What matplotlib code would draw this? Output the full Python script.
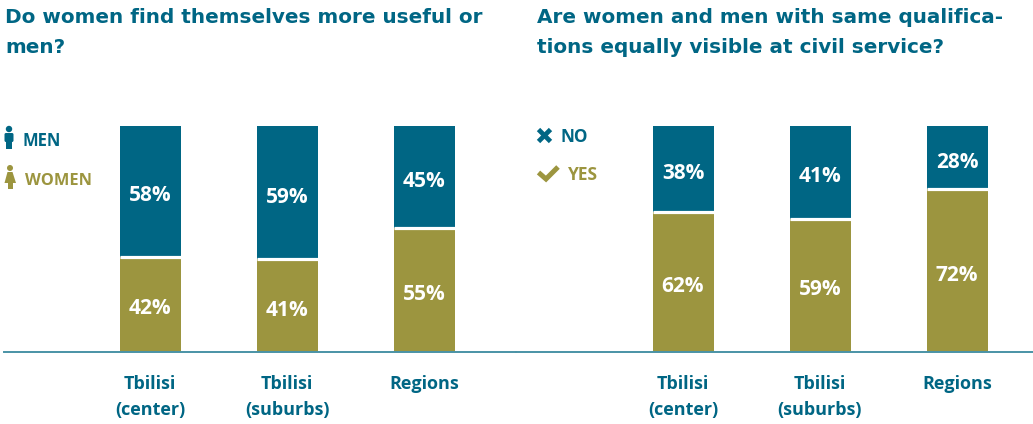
import matplotlib
matplotlib.use("Agg")
import matplotlib.pyplot as plt
from matplotlib.patches import Circle, Polygon, FancyBboxPatch

categories = ["Tbilisi\n(center)", "Tbilisi\n(suburbs)", "Regions"]
left_men = [58, 59, 45]
left_women = [42, 41, 55]
right_no = [38, 41, 28]
right_yes = [62, 59, 72]
left_title = "Do women find themselves more useful or\nmen?"
right_title = "Are women and men with same qualifica-\ntions equally visible at civil service?"

BLUE = "#006684"
OLIVE = "#9C953F"
LINE = "#4A93A6"
W, H = 1033, 424
LABEL_FONT = "Open Sans"

fig = plt.figure(figsize=(W / 100, H / 100), dpi=100, facecolor="white")


def make_axes(px_left, px_right, px_center):
    ax = fig.add_axes([px_left / W, (H - 352) / H, (px_right - px_left) / W, 226 / H])
    ax.set_xlim((px_left - px_center) / 137, (px_right - px_center) / 137)
    ax.set_ylim(0, 100)
    ax.patch.set_alpha(0)
    for s in ["top", "left", "right"]:
        ax.spines[s].set_visible(False)
    ax.spines["bottom"].set_color(LINE)
    ax.spines["bottom"].set_linewidth(1.4)
    ax.spines["bottom"].set_zorder(5)
    ax.yaxis.set_visible(False)
    ax.set_xticks(range(len(categories)))
    ax.set_xticklabels(categories, family=LABEL_FONT, fontweight="bold",
                       fontsize=13, color=BLUE, linespacing=1.55)
    ax.tick_params(axis="x", length=0, pad=16.5)
    return ax


def stacked(ax, lower, upper):
    x = list(range(len(lower)))
    bw = 61 / 137
    ax.bar(x, lower, bw, color=OLIVE, linewidth=0)
    ax.bar(x, upper, bw, bottom=lower, color=BLUE, linewidth=0)
    for i in x:
        ax.plot([i - bw / 2, i + bw / 2], [lower[i], lower[i]], color="white", lw=2.3,
                solid_capstyle="butt", zorder=4)
        for y, v in ((lower[i] / 2, lower[i]), (lower[i] + upper[i] / 2, upper[i])):
            ax.annotate(f"{v}%", (i, y), xytext=(0, -3.2), textcoords="offset points",
                        ha="center", va="center", color="white",
                        family=LABEL_FONT, fontweight="bold", fontsize=15, zorder=6)


ax1 = make_axes(4, 516, 150)
ax2 = make_axes(516, 1033, 683)
stacked(ax1, left_women, left_men)
stacked(ax2, right_yes, right_no)

fig.text(5 / W, 1 - 8 / H, left_title, va="top", ha="left", family="DejaVu Sans",
         fontweight="bold", fontsize=14.4, color=BLUE, linespacing=1.72)
fig.text(537 / W, 1 - 8 / H, right_title, va="top", ha="left", family="DejaVu Sans",
         fontweight="bold", fontsize=14.4, color=BLUE, linespacing=1.72)

# Legend keys drawn in pixel coordinates
ov = fig.add_axes([0, 0, 1, 1])
ov.set_xlim(0, W)
ov.set_ylim(H, 0)
ov.axis("off")
ov.patch.set_alpha(0)

# man icon
ov.add_patch(Circle((9, 129), 3.2, color=BLUE, lw=0))
ov.add_patch(FancyBboxPatch((4.5, 133), 9, 9, boxstyle="round,pad=0,rounding_size=1.5", color=BLUE, lw=0))
ov.add_patch(Polygon([(6, 140), (12, 140), (12, 149), (6, 149)], color=BLUE, lw=0))
# woman icon
ov.add_patch(Circle((10, 168), 3.0, color=OLIVE, lw=0))
ov.add_patch(Polygon([(7.5, 172), (12.5, 172), (16, 183), (4.5, 183)], color=OLIVE, lw=0))
ov.add_patch(Polygon([(7.5, 183), (12.5, 183), (12.5, 189), (7.5, 189)], color=OLIVE, lw=0))
# cross icon
ov.plot([538.5, 550.5], [129.5, 141.5], color=BLUE, lw=3.4, solid_capstyle="butt")
ov.plot([550.5, 538.5], [129.5, 141.5], color=BLUE, lw=3.4, solid_capstyle="butt")
# check icon
ov.plot([538.5, 546, 558], [172.5, 179, 167], color=OLIVE, lw=3.6,
        solid_capstyle="butt", solid_joinstyle="miter")

for x, y, s, c, fs in [(22, 141, "MEN", BLUE, 12), (25, 181, "WOMEN", OLIVE, 11.8),
                       (561, 137.5, "NO", BLUE, 12.3), (568, 175, "YES", OLIVE, 12.5)]:
    ov.text(x, y, s, ha="left", va="center", color=c, family=LABEL_FONT,
            fontweight="bold", fontsize=fs)

fig.savefig("out.png", dpi=100, facecolor="white")
